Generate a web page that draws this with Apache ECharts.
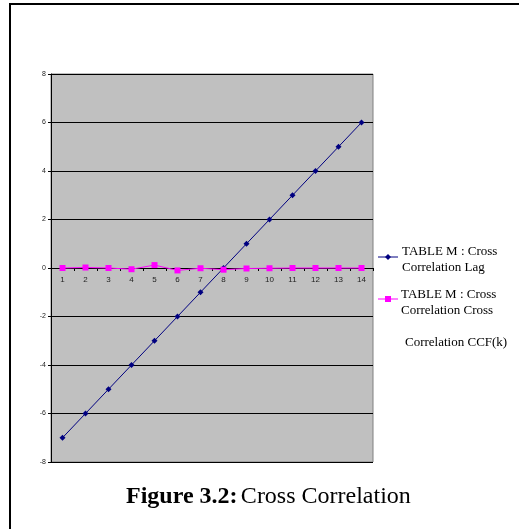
<!DOCTYPE html>
<html><head><meta charset="utf-8">
<script src="https://cdn.jsdelivr.net/npm/echarts@6/dist/echarts.min.js"></script>
<style>html,body{margin:0;padding:0;background:#fff}#c{width:519px;height:529px}</style>
</head><body><div id="c"></div>
<script>
const categories = ['1','2','3','4','5','6','7','8','9','10','11','12','13','14'];
const lagValues = [-7,-6,-5,-4,-3,-2,-1,0,1,2,3,4,5,6];
const ccfValues = [0,0.02,0,-0.05,0.12,-0.1,-0.01,-0.07,-0.02,-0.01,0,0,0,0];
const yTicks = {min:-8, max:8, interval:2};
const seriesNames = ['TABLE M : Cross Correlation Lag','TABLE M : Cross Correlation Cross Correlation CCF(k)'];

const chart = echarts.init(document.getElementById('c'));
const G = {left:51, top:74, width:322, height:388};
const serif = '"Liberation Serif", "Times New Roman", serif';
chart.setOption({
  animation:false,
  backgroundColor:'#fff',
  grid:{left:G.left, top:G.top, width:G.width, height:G.height, show:true, backgroundColor:'#c0c0c0', borderColor:'#808080', borderWidth:1},
  xAxis:{type:'category', data:categories, boundaryGap:true, offset:-G.height/2,
    axisLine:{onZero:false, lineStyle:{color:'#000', width:1}},
    axisTick:{show:true, inside:false, length:3, lineStyle:{color:'#000'}},
    axisLabel:{color:'#222', fontSize:8, fontFamily:'Arial', margin:8},
    splitLine:{show:false}},
  yAxis:{type:'value', min:yTicks.min, max:yTicks.max, interval:yTicks.interval,
    axisLine:{show:true, lineStyle:{color:'#000', width:1}},
    axisTick:{show:true, length:3, lineStyle:{color:'#000'}},
    axisLabel:{color:'#222', fontSize:7, fontFamily:'Arial', margin:5},
    splitLine:{show:true, lineStyle:{color:'#000', width:1}}},
  series:[
    {name:seriesNames[0], type:'line', data:lagValues, symbol:'diamond', symbolSize:6,
      lineStyle:{color:'#000080', width:1}, itemStyle:{color:'#000080'}},
    {name:seriesNames[1], type:'line', data:ccfValues, symbol:'rect', symbolSize:6,
      lineStyle:{color:'#ff00ff', width:1}, itemStyle:{color:'#ff00ff'}}
  ],
  graphic:[
    {type:'rect', shape:{x:10, y:4, width:600, height:600}, style:{fill:'none', stroke:'#000', lineWidth:2}, silent:true},
    {type:'line', shape:{x1:378, y1:257, x2:398, y2:257}, style:{stroke:'#000080', lineWidth:1}},
    {type:'polygon', shape:{points:[[388,254],[391,257],[388,260],[385,257]]}, style:{fill:'#000080'}},
    {type:'text', left:402, top:244, style:{text:'TABLE M : Cross\nCorrelation Lag', fill:'#000', font:'13px ' + serif, lineHeight:16}},
    {type:'line', shape:{x1:378, y1:299, x2:398, y2:299}, style:{stroke:'#ff00ff', lineWidth:1}},
    {type:'rect', shape:{x:385, y:296, width:6, height:6}, style:{fill:'#ff00ff'}},
    {type:'text', left:401, top:287, style:{text:'TABLE M : Cross\nCorrelation Cross', fill:'#000', font:'13px ' + serif, lineHeight:16}},
    {type:'text', left:405, top:336, style:{text:'Correlation CCF(k)', fill:'#000', font:'13px ' + serif}},
    {type:'text', left:126, top:485, style:{text:'{b|Figure 3.2:} {n|Cross Correlation}', rich:{
      b:{fontWeight:'bold', fontSize:24, fontFamily:serif, fill:'#000'},
      n:{fontSize:24, fontFamily:serif, fill:'#000'}}}}
  ]
});
</script></body></html>
